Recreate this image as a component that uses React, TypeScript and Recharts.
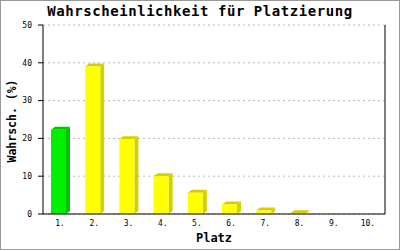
import React from 'react';
import { BarChart, Bar, XAxis, YAxis, CartesianGrid, Cell } from 'recharts';

const places = ['1.', '2.', '3.', '4.', '5.', '6.', '7.', '8.', '9.', '10.'];
const probabilities = [22.3, 39, 19.8, 10, 5.6, 2.5, 0.9, 0.2, 0, 0];
const yTicks = [0, 10, 20, 30, 40, 50];

const data = places.map((p, i) => ({ place: p, value: probabilities[i] }));

const FRONT = ['#00ee00', '#ffff00'];
const SIDE = ['#00c400', '#d4d000'];
const MONO = '"DejaVu Sans Mono", monospace';

// 3D-looking bar: front face, darker right side and top
function Bar3D(props: any) {
  const { x, y, width, height, index } = props;
  if (!height || height <= 0) return null;
  const dx = 4;
  const dy = 3;
  const w = width - dx;
  const k = index === 0 ? 0 : 1;
  return (
    <g>
      <polygon
        points={`${x + w},${y} ${x + w + dx},${y - dy} ${x + w + dx},${y + height - dy} ${x + w},${y + height}`}
        fill={SIDE[k]}
      />
      <polygon
        points={`${x},${y} ${x + dx},${y - dy} ${x + w + dx},${y - dy} ${x + w},${y}`}
        fill={SIDE[k]}
      />
      <rect x={x} y={y} width={w} height={height} fill={FRONT[k]} />
    </g>
  );
}

export default function App() {
  return (
    <div style={{ position: 'absolute', left: 0, top: 0, width: 400, height: 250, background: '#fff' }}>
      <BarChart
        width={400}
        height={250}
        data={data}
        margin={{ top: 25, right: 0, bottom: 0, left: 0 }}
      >
        <CartesianGrid horizontal vertical={false} stroke="#bbbbbb" strokeDasharray="2 3" yAxisId="left" />
        <XAxis
          dataKey="place"
          height={36}
          tickLine={false}
          tickSize={4}
          tickMargin={2}
          axisLine={{ stroke: '#000' }}
          tick={{ fontFamily: MONO, fontSize: 8, fill: '#000' }}
          interval={0}
        />
        <YAxis
          yAxisId="left"
          width={43}
          domain={[0, 50]}
          ticks={yTicks}
          tickSize={5}
          tickMargin={6}
          axisLine={{ stroke: '#000' }}
          tickLine={{ stroke: '#000' }}
          tick={{ fontFamily: MONO, fontSize: 8, fill: '#000' }}
        />
        <YAxis
          yAxisId="right"
          orientation="right"
          width={15}
          domain={[0, 50]}
          tick={false}
          tickLine={false}
          axisLine={{ stroke: '#000' }}
        />
        <Bar
          yAxisId="left"
          dataKey="value"
          barSize={19}
          shape={<Bar3D />}
          isAnimationActive={false}
        >
          {data.map((d, i) => (
            <Cell key={d.place} fill={FRONT[i === 0 ? 0 : 1]} />
          ))}
        </Bar>
      </BarChart>
      <div
        style={{
          position: 'absolute', left: 0, top: 3, width: 400, textAlign: 'center',
          fontFamily: MONO, fontWeight: 'bold', fontSize: 14, letterSpacing: 0.55, color: '#000',
        }}
      >
        Wahrscheinlichkeit für Platzierung
      </div>
      <div
        style={{
          position: 'absolute', left: 0, top: 231, width: 428, textAlign: 'center',
          fontFamily: MONO, fontWeight: 'bold', fontSize: 12, color: '#000',
        }}
      >
        Platz
      </div>
      <div
        style={{
          position: 'absolute', left: 12, top: 121, width: 0, height: 0,
        }}
      >
        <div
          style={{
            position: 'absolute', left: -60, top: -8, width: 120, textAlign: 'center',
            transform: 'rotate(-90deg)', fontFamily: MONO, fontWeight: 'bold', fontSize: 11.5, color: '#000',
            lineHeight: '16px',
          }}
        >
          Wahrsch. (%)
        </div>
      </div>
      <div
        style={{
          position: 'absolute', left: 0, top: 0, width: 400, height: 250, boxSizing: 'border-box',
          border: '1px solid #999', pointerEvents: 'none',
        }}
      />
    </div>
  );
}
